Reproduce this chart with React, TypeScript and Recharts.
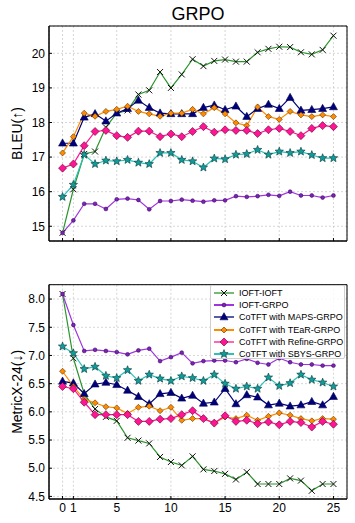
import React from 'react';
import { LineChart, Line, XAxis, YAxis, CartesianGrid, ReferenceArea } from 'recharts';

const steps = [0, 1, 2, 3, 4, 5, 6, 7, 8, 9, 10, 11, 12, 13, 14, 15, 16, 17, 18, 19, 20, 21, 22, 23, 24, 25];
const xTicks = [0, 1, 5, 10, 15, 20, 25];
const bleuTicks = [15, 16, 17, 18, 19, 20];
const metricTicks = [4.5, 5, 5.5, 6, 6.5, 7, 7.5, 8];

const seriesNames = [
  'IOFT-IOFT',
  'IOFT-GRPO',
  'CoTFT with MAPS-GRPO',
  'CoTFT with TEaR-GRPO',
  'CoTFT with Refine-GRPO',
  'CoTFT with SBYS-GRPO',
];

const bleuIoftIoft = [14.81, 16.07, 17.09, 17.16, 17.86, 18.27, 18.35, 18.81, 18.93, 19.46, 19.0, 19.39, 19.83, 19.63, 19.78, 19.82, 19.76, 19.76, 20.03, 20.13, 20.19, 20.18, 20.03, 19.97, 20.1, 20.51];
const bleuIoftGrpo = [14.81, 15.17, 15.65, 15.65, 15.5, 15.78, 15.8, 15.76, 15.49, 15.73, 15.73, 15.77, 15.74, 15.71, 15.75, 15.75, 15.87, 15.85, 15.87, 15.91, 15.88, 16.0, 15.89, 15.89, 15.83, 15.89];
const bleuMaps = [17.4, 17.4, 18.15, 18.25, 18.04, 18.27, 18.4, 18.64, 18.43, 18.27, 18.25, 18.25, 18.25, 18.43, 18.5, 18.37, 18.47, 18.17, 18.4, 18.52, 18.4, 18.72, 18.35, 18.37, 18.4, 18.45];
const bleuTear = [17.12, 17.59, 18.27, 18.18, 18.32, 18.38, 18.47, 18.32, 18.25, 18.18, 18.27, 18.27, 18.38, 18.25, 18.43, 18.25, 17.99, 17.91, 18.45, 18.17, 18.09, 18.32, 18.22, 18.17, 18.22, 18.17];
const bleuRefine = [16.68, 16.8, 17.33, 17.74, 17.77, 17.62, 17.57, 17.75, 17.75, 17.59, 17.67, 17.59, 17.74, 17.88, 17.72, 17.79, 17.77, 17.77, 17.68, 17.79, 17.83, 17.74, 17.62, 17.83, 17.91, 17.88];
const bleuSbys = [15.85, 16.2, 17.07, 16.8, 16.9, 16.88, 16.92, 16.84, 16.8, 17.12, 17.12, 16.92, 16.88, 16.7, 16.96, 16.94, 17.07, 17.09, 17.21, 17.07, 17.16, 17.12, 17.16, 17.06, 16.97, 16.97];

const mxIoftIoft = [8.09, 6.95, 6.32, 6.05, 5.91, 5.84, 5.54, 5.49, 5.44, 5.2, 5.11, 5.05, 5.21, 4.98, 4.95, 4.9, 4.8, 4.93, 4.72, 4.72, 4.72, 4.82, 4.78, 4.6, 4.72, 4.72];
const mxIoftGrpo = [8.09, 7.54, 7.08, 7.1, 7.08, 7.06, 7.02, 7.09, 7.12, 6.9, 6.97, 7.05, 6.86, 6.9, 6.91, 6.91, 6.88, 6.94, 6.87, 6.84, 6.95, 6.88, 6.84, 6.84, 6.82, 6.82];
const mxMaps = [6.54, 6.51, 6.32, 6.49, 6.52, 6.48, 6.38, 6.27, 6.14, 6.32, 6.34, 6.24, 6.29, 6.15, 6.17, 6.41, 6.14, 6.3, 6.26, 6.12, 6.15, 6.1, 6.12, 6.18, 6.12, 6.27];
const mxTear = [6.72, 6.45, 6.22, 6.16, 6.09, 6.07, 5.97, 6.08, 6.1, 6.02, 6.08, 5.85, 5.88, 5.88, 5.8, 5.91, 5.88, 5.94, 5.85, 5.92, 5.98, 5.94, 5.88, 5.84, 5.88, 5.87];
const mxRefine = [6.45, 6.41, 6.17, 5.95, 5.95, 5.95, 5.95, 5.83, 5.83, 5.87, 5.88, 5.95, 6.02, 5.88, 5.8, 5.93, 5.83, 5.85, 5.79, 5.82, 5.77, 5.83, 5.81, 5.73, 5.83, 5.78];
const mxSbys = [7.16, 7.04, 6.76, 6.8, 6.64, 6.6, 6.74, 6.55, 6.66, 6.59, 6.55, 6.63, 6.6, 6.55, 6.66, 6.5, 6.41, 6.45, 6.41, 6.61, 6.46, 6.51, 6.66, 6.57, 6.52, 6.45];

const FONT = '"Liberation Sans", Arial, Helvetica, sans-serif';
const X_DOMAIN: [number, number] = [-1.25, 26.25];
const BLEU_DOMAIN: [number, number] = [14.574, 20.79];
const MX_DOMAIN: [number, number] = [4.454, 8.255];

type Shape = 'x' | 'circle' | 'triangle' | 'diamondS' | 'diamondL' | 'star';

function starPoints(cx: number, cy: number, ro: number, ri: number) {
  const pts: string[] = [];
  for (let k = 0; k < 10; k++) {
    const r = k % 2 === 0 ? ro : ri;
    const a = -Math.PI / 2 + (k * Math.PI) / 5;
    pts.push(`${cx + r * Math.cos(a)},${cy + r * Math.sin(a)}`);
  }
  return pts.join(' ');
}

function Marker({ shape, cx, cy }: { shape: Shape; cx: number; cy: number }) {
  switch (shape) {
    case 'x': {
      const r = 3;
      return (
        <path
          d={`M${cx - r},${cy - r}L${cx + r},${cy + r}M${cx - r},${cy + r}L${cx + r},${cy - r}`}
          stroke="#111"
          strokeWidth={1}
          fill="none"
        />
      );
    }
    case 'circle':
      return <circle cx={cx} cy={cy} r={1.9} fill="#7d22b8" stroke="#3b0a5c" strokeWidth={0.6} />;
    case 'triangle':
      return (
        <polygon
          points={`${cx},${cy - 4.3} ${cx - 4},${cy + 2.8} ${cx + 4},${cy + 2.8}`}
          fill="#00007a"
          stroke="#000050"
          strokeWidth={0.6}
        />
      );
    case 'diamondS':
      return (
        <polygon
          points={`${cx},${cy - 3} ${cx + 3},${cy} ${cx},${cy + 3} ${cx - 3},${cy}`}
          fill="#ff8c00"
          stroke="#5a3000"
          strokeWidth={0.6}
        />
      );
    case 'diamondL':
      return (
        <polygon
          points={`${cx},${cy - 4} ${cx + 4},${cy} ${cx},${cy + 4} ${cx - 4},${cy}`}
          fill="#ff1493"
          stroke="#5a0030"
          strokeWidth={0.6}
        />
      );
    case 'star':
      return <polygon points={starPoints(cx, cy, 4.4, 1.9)} fill="#119c9c" stroke="#083838" strokeWidth={0.6} />;
  }
  return null;
}

const seriesStyles: { key: string; color: string; shape: Shape }[] = [
  { key: 's0', color: '#2a952a', shape: 'x' },
  { key: 's1', color: '#a035e0', shape: 'circle' },
  { key: 's2', color: '#00007a', shape: 'triangle' },
  { key: 's3', color: '#ff8c00', shape: 'diamondS' },
  { key: 's4', color: '#ff1493', shape: 'diamondL' },
  { key: 's5', color: '#2cc0b8', shape: 'star' },
];

const bleuSeries = [bleuIoftIoft, bleuIoftGrpo, bleuMaps, bleuTear, bleuRefine, bleuSbys];
const mxSeries = [mxIoftIoft, mxIoftGrpo, mxMaps, mxTear, mxRefine, mxSbys];

const bleuData = steps.map((s, i) => {
  const row: Record<string, number> = { step: s };
  seriesStyles.forEach((st, j) => (row[st.key] = bleuSeries[j][i]));
  return row;
});
const mxData = steps.map((s, i) => {
  const row: Record<string, number> = { step: s };
  seriesStyles.forEach((st, j) => (row[st.key] = mxSeries[j][i]));
  return row;
});

const makeDot = (shape: Shape) => (props: any) => {
  const { cx, cy, index } = props;
  if (cx == null || cy == null) return <g key={`e-${index}`} />;
  return (
    <g key={`m-${shape}-${index}`}>
      <Marker shape={shape} cx={cx} cy={cy} />
    </g>
  );
};

const axisLabel = (text: string) => (p: any) => {
  const vb = p.viewBox || {};
  const cx = 17;
  const cy = (vb.y || 0) + (vb.height || 0) / 2;
  return (
    <text
      x={cx}
      y={cy}
      transform={`rotate(-90 ${cx} ${cy})`}
      textAnchor="middle"
      dominantBaseline="central"
      fontSize={14}
      fontFamily={FONT}
      fill="#000"
    >
      {text}
    </text>
  );
};

const tickStyle = { fill: '#000', fontSize: 12, fontFamily: FONT };

function Panel({
  data,
  domain,
  ticks,
  label,
  height,
  marginTop,
  showXLabels,
  fmt,
}: {
  data: Record<string, number>[];
  domain: [number, number];
  ticks: number[];
  label: string;
  height: number;
  marginTop: number;
  showXLabels: boolean;
  fmt: (v: number) => string;
}) {
  return (
    <LineChart width={355} height={height} data={data} margin={{ top: marginTop, right: 8, bottom: 0, left: 19 }}>
      <CartesianGrid stroke="#c4c4c4" strokeDasharray="2 2" strokeWidth={0.7} />
      <XAxis
        dataKey="step"
        type="number"
        domain={X_DOMAIN}
        ticks={xTicks}
        allowDataOverflow
        interval={0}
        height={showXLabels ? 24 : 19}
        tickSize={-3}
        tickMargin={7}
        tick={tickStyle}
        tickFormatter={showXLabels ? (v: number) => String(v) : () => ''}
        axisLine={{ stroke: '#000' }}
        tickLine={{ stroke: '#000' }}
      />
      <YAxis
        type="number"
        domain={domain}
        ticks={ticks}
        allowDataOverflow
        interval={0}
        width={30}
        tickSize={-3}
        tickMargin={7}
        tick={tickStyle}
        tickFormatter={fmt}
        axisLine={{ stroke: '#000' }}
        tickLine={{ stroke: '#000' }}
        label={{ content: axisLabel(label) }}
      />
      <ReferenceArea
        x1={X_DOMAIN[0]}
        x2={X_DOMAIN[1]}
        y1={domain[0]}
        y2={domain[1]}
        fill="none"
        stroke="#000"
        strokeWidth={1}
        ifOverflow="visible"
      />
      {seriesStyles.map((st, j) => (
        <Line
          key={st.key}
          dataKey={st.key}
          name={seriesNames[j]}
          stroke={st.color}
          strokeWidth={1.2}
          dot={makeDot(st.shape)}
          activeDot={false}
          isAnimationActive={false}
        />
      ))}
    </LineChart>
  );
}

function LegendBox() {
  return (
    <div
      style={{
        position: 'absolute',
        left: 210,
        top: 285,
        width: 135,
        height: 74,
        background: 'rgba(255,255,255,0.82)',
        border: '1px solid #cfcfcf',
        borderRadius: 2,
        boxSizing: 'border-box',
        paddingTop: 1,
      }}
    >
      {seriesStyles.map((st, j) => (
        <div key={st.key} style={{ display: 'flex', alignItems: 'center', height: 12.2 }}>
          <svg width={26} height={12} style={{ flex: 'none', marginLeft: 2 }}>
            <line x1={1} y1={6} x2={21} y2={6} stroke={st.color} strokeWidth={j === 1 || j === 3 || j === 5 ? 2 : 1.3} />
            <Marker shape={st.shape} cx={11} cy={6} />
          </svg>
          <span style={{ fontFamily: FONT, fontSize: 9, color: '#000', whiteSpace: 'nowrap', lineHeight: '12px' }}>
            {seriesNames[j]}
          </span>
        </div>
      ))}
    </div>
  );
}

export default function App() {
  return (
    <div style={{ position: 'absolute', left: 0, top: 0, width: 355, height: 523, background: '#fff', overflow: 'hidden' }}>
      <div
        style={{
          position: 'absolute',
          left: 49,
          top: 3,
          width: 298,
          textAlign: 'center',
          fontFamily: FONT,
          fontSize: 18,
          lineHeight: '22px',
          color: '#000',
        }}
      >
        GRPO
      </div>
      <div style={{ position: 'absolute', left: 0, top: 0 }}>
        <Panel
          data={bleuData}
          domain={BLEU_DOMAIN}
          ticks={bleuTicks}
          label="BLEU(↑)"
          height={260}
          marginTop={26}
          showXLabels={false}
          fmt={(v) => String(v)}
        />
      </div>
      <div style={{ position: 'absolute', left: 0, top: 260 }}>
        <Panel
          data={mxData}
          domain={MX_DOMAIN}
          ticks={metricTicks}
          label="MetricX-24(↓)"
          height={263}
          marginTop={24.7}
          showXLabels={true}
          fmt={(v) => v.toFixed(1)}
        />
      </div>
      <LegendBox />
    </div>
  );
}
